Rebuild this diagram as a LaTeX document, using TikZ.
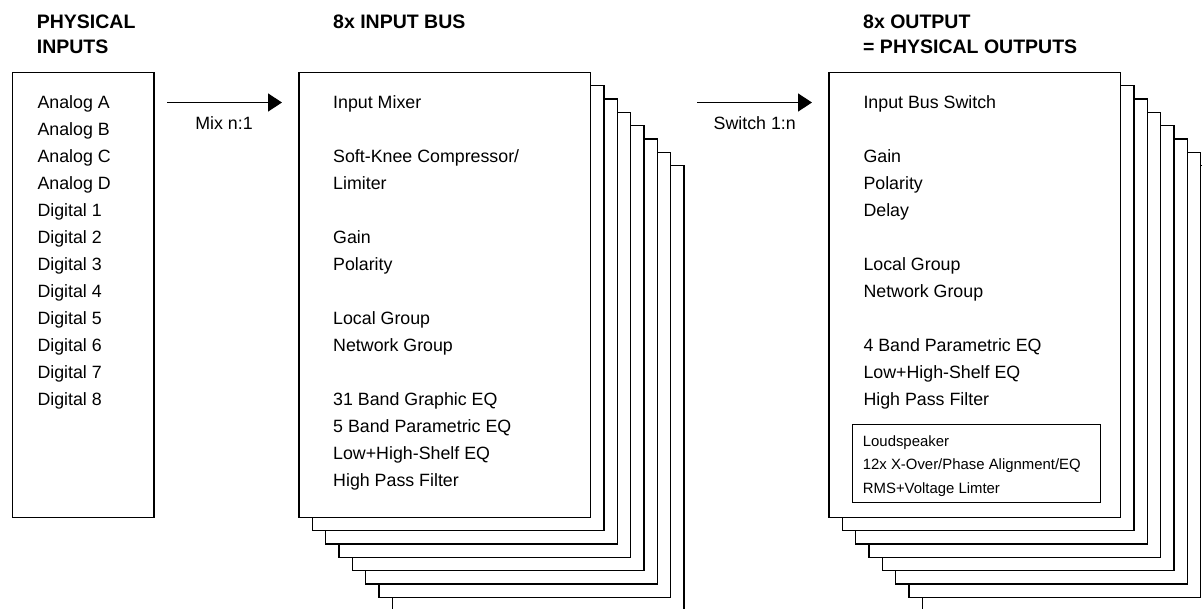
\documentclass[tikz,border=0pt]{standalone}
\usepackage{fontspec}
\setmainfont{Liberation Sans}
\usetikzlibrary{arrows.meta}
\begin{document}
\begin{tikzpicture}[x=1pt,y=-1pt,
  frame/.style={draw=black, fill=white, line width=1.3pt, rectangle, inner sep=0pt, anchor=north west},
  txt/.style={anchor=base west, inner sep=0pt, font=\fontsize{17.8}{20}\selectfont},
  small/.style={anchor=base west, inner sep=0pt, font=\fontsize{14.9}{17}\selectfont},
  head/.style={anchor=base west, inner sep=0pt, font=\fontsize{19.5}{22}\selectfont\bfseries},
  flow/.style={line width=1.5pt, -{Triangle[length=14pt,width=18pt]}}]
\useasboundingbox (0,0) rectangle (1202,608);
\clip (0,0) rectangle (1202,608);
% headers
\node[head] (h1a) at (36.7,28.3) {PHYSICAL};
\node[head] (h1b) at (36.7,53.3) {INPUTS};
\node[head] (h2) at (333,28.3) {8x INPUT BUS};
\node[head] (h3a) at (863,28.3) {8x OUTPUT};
\node[head] (h3b) at (863,53.3) {= PHYSICAL OUTPUTS};
% left box
\node[frame, minimum width=141.3pt, minimum height=445pt] (inbox) at (12,71.7) {};
\foreach \t [count=\k from 0] in {Analog A,Analog B,Analog C,Analog D,Digital 1,Digital 2,Digital 3,Digital 4,Digital 5,Digital 6,Digital 7,Digital 8}
  \node[txt] (l\k) at (37.3,{108.5+27*\k}) {\t};
% middle stack
\foreach \i in {7,...,0}
  \node[frame, minimum width=291.7pt, minimum height=445pt] (mid\i) at ({298.3+13.333*\i},{71.7+13.333*\i}) {};
\node[txt] (m0) at (333,108.3) {Input Mixer};
\node[txt] (m2) at (333,{108.3+27*2}) {Soft-Knee Compressor/};
\node[txt] (m3) at (333,{108.3+27*3}) {Limiter};
\node[txt] (m5) at (333,{108.3+27*5}) {Gain};
\node[txt] (m6) at (333,{108.3+27*6}) {Polarity};
\node[txt] (m8) at (333,{108.3+27*8}) {Local Group};
\node[txt] (m9) at (333,{108.3+27*9}) {Network Group};
\node[txt] (m11) at (333,{108.3+27*11}) {31 Band Graphic EQ};
\node[txt] (m12) at (333,{108.3+27*12}) {5 Band Parametric EQ};
\node[txt] (m13) at (333,{108.3+27*13}) {Low+High-Shelf EQ};
\node[txt] (m14) at (333,{108.3+27*14}) {High Pass Filter};
% right stack
\foreach \i in {7,...,0}
  \node[frame, minimum width=291.7pt, minimum height=445pt] (out\i) at ({828.3+13.333*\i},{71.7+13.333*\i}) {};
\node[txt] (r0) at (863.3,108.3) {Input Bus Switch};
\node[txt] (r2) at (863.3,{108.3+27*2}) {Gain};
\node[txt] (r3) at (863.3,{108.3+27*3}) {Polarity};
\node[txt] (r4) at (863.3,{108.3+27*4}) {Delay};
\node[txt] (r6) at (863.3,{108.3+27*6}) {Local Group};
\node[txt] (r7) at (863.3,{108.3+27*7}) {Network Group};
\node[txt] (r9) at (863.3,{108.3+27*9}) {4 Band Parametric EQ};
\node[txt] (r10) at (863.3,{108.3+27*10}) {Low+High-Shelf EQ};
\node[txt] (r11) at (863.3,{108.3+27*11}) {High Pass Filter};
% loudspeaker box
\node[frame, minimum width=248pt, minimum height=78pt] (spk) at (852,424) {};
\node[small] (s1) at (862.7,446) {Loudspeaker};
\node[small] (s2) at (862.7,469.5) {12x X-Over/Phase Alignment/EQ};
\node[small] (s3) at (862.7,493) {RMS+Voltage Limter};
% arrows
\coordinate (a1s) at (167.3,102.5);
\coordinate (a1e) at (282,102.5);
\draw[flow] (a1s) -- (a1e);
\node[txt, anchor=base] (mixlbl) at (224,129) {Mix n:1};
\coordinate (a2s) at (697.3,102.5);
\coordinate (a2e) at (812,102.5);
\draw[flow] (a2s) -- (a2e);
\node[txt, anchor=base] (swlbl) at (754.7,129) {Switch 1:n};
\end{tikzpicture}
\end{document}
